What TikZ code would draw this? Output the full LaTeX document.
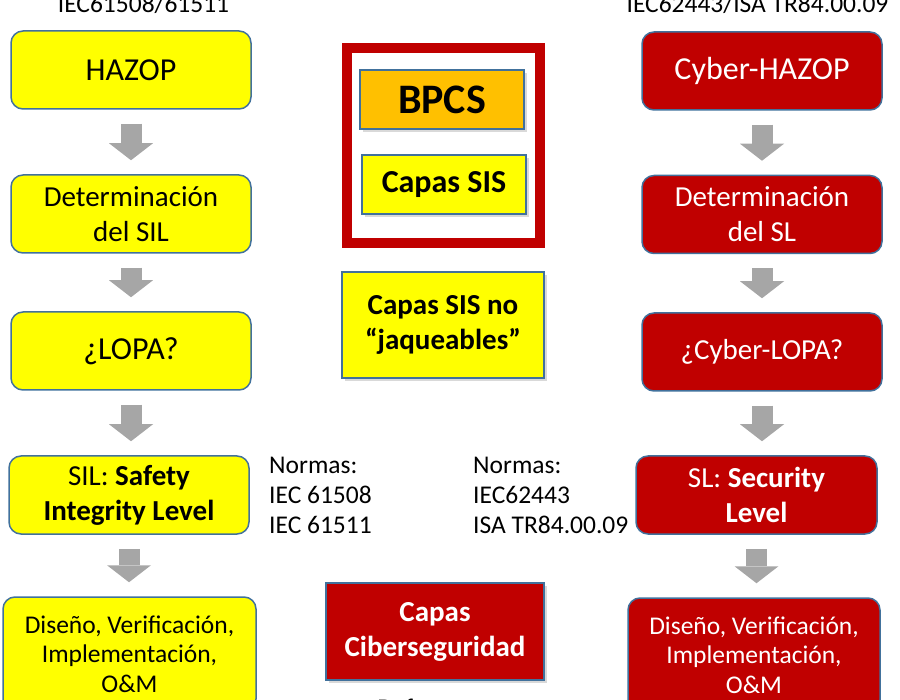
\documentclass[tikz,border=0pt]{standalone}
\usepackage{fontspec}
\setmainfont{Carlito}
\usepackage{tikz}
\usetikzlibrary{positioning, arrows.meta, shadows, calc}
\definecolor{amarillo}{HTML}{FFFF00}
\definecolor{rojo}{HTML}{C00000}
\definecolor{naranja}{HTML}{FFC000}
\definecolor{bordeazul}{HTML}{41719C}
\definecolor{flechagris}{HTML}{A6A6A6}
\tikzset{
    caja/.style={draw=bordeazul, line width=1.5pt, rounded corners=12pt, minimum width=240pt, minimum height=78pt, align=center, inner sep=2pt},
    caja safety/.style={caja, fill=amarillo, text=black},
    caja cyber/.style={caja, fill=rojo, text=white},
    capa/.style={draw=bordeazul, line width=1.5pt, align=center, inner sep=2pt, font=\bfseries\fontsize{29}{35}\selectfont,
        drop shadow={shadow xshift=3pt, shadow yshift=-3pt, opacity=0.3}},
    marco/.style={draw=rojo, line width=10pt, minimum width=193pt, minimum height=195pt},
    flecha/.style={flechagris, line width=21pt, -{Triangle[width=44pt, length=17pt, line width=0pt]}, shorten <=14pt, shorten >=14pt},
    norma/.style={align=left, inner sep=0pt, anchor=base west, font=\fontsize{25.5}{30}\selectfont},
    titulo/.style={inner sep=0pt, anchor=base, font=\fontsize{25.5}{30}\selectfont},
    grande/.style={font=\fontsize{32}{38}\selectfont},
    media/.style={font=\fontsize{29}{35}\selectfont},
    chica/.style={font=\fontsize{25.5}{29.5}\selectfont, minimum width=253pt, minimum height=114pt}
}

\begin{document}
\begin{tikzpicture}[x=1pt, y=-1pt]
    \useasboundingbox (0,0) rectangle (900,700);
    \clip (0,0) rectangle (900,700);

    % --- Titles ---
    \node (tituloS) [titulo] at (143.5,13) {IEC61508/61511};
    \node (tituloC) [titulo] at (757.5,13) {IEC62443/ISA TR84.00.09};

    % --- Safety column ---
    \node (hazop) [caja safety, grande] at (131,70) {HAZOP};
    \node (detsil) [caja safety, media] at (131,214) {Determinación\\del SIL};
    \node (lopa) [caja safety, grande] at (131,351) {¿LOPA?};
    \node (sil) [caja safety, media] at (129,495) {SIL: \textbf{Safety}\\\textbf{Integrity Level}};
    \node (disenoS) [caja safety, chica] at (129.5,654) {Diseño, Verificación,\\Implementación,\\O\&M};

    % --- Cyber column ---
    \node (chazop) [caja cyber, grande] at (762,71) {Cyber-HAZOP};
    \node (detsl) [caja cyber, media] at (762,214.5) {Determinación\\del SL};
    \node (clopa) [caja cyber, media] at (762,352) {¿Cyber-LOPA?};
    \node (sl) [caja cyber, media, minimum width=241pt] at (756.5,495) {SL: \textbf{Security}\\\textbf{Level}};
    \node (disenoC) [caja cyber, chica, minimum width=252pt] at (754,655) {Diseño, Verificación,\\Implementación,\\O\&M};

    % --- Layers in the middle ---
    \node (marco) [marco] at (443.5,145.5) {};
    \node (bpcs) [capa, fill=naranja, minimum width=164pt, minimum height=59pt, font=\bfseries\fontsize{42}{50}\selectfont] at (442,99.5) {BPCS};
    \node (capasis) [capa, fill=amarillo, minimum width=164pt, minimum height=59pt, font=\bfseries\fontsize{32}{38}\selectfont] at (444,184.5) {Capas SIS};
    \node (jaq) [capa, fill=amarillo, minimum width=202pt, minimum height=106pt] at (443,325) {Capas SIS no\\“jaqueables”};
    \node (ciber) [capa, fill=rojo, text=white, minimum width=218pt, minimum height=97pt] at (435,631.5) {Capas\\Ciberseguridad};
    \node (defensa) [titulo] at (435,716) {Defensa en};

    % --- Standards (anchored on the last line) ---
    \node (normasS) [norma] at (269,533) {Normas:\\IEC 61508\\IEC 61511};
    \node (normasC) [norma] at (473,533) {Normas:\\IEC62443\\ISA TR84.00.09};

    % --- Arrows ---
    \draw[flecha] (hazop.south) -- (hazop.south |- detsil.north);
    \draw[flecha] (detsil.south) -- (detsil.south |- lopa.north);
    \draw[flecha] (lopa.south) -- (lopa.south |- sil.north);
    \draw[flecha] (sil.south) -- (sil.south |- disenoS.north);
    \draw[flecha] (chazop.south) -- (chazop.south |- detsl.north);
    \draw[flecha] (detsl.south) -- (detsl.south |- clopa.north);
    \draw[flecha] (clopa.south) -- (clopa.south |- sl.north);
    \draw[flecha] (sl.south) -- (sl.south |- disenoC.north);
\end{tikzpicture}
\end{document}
